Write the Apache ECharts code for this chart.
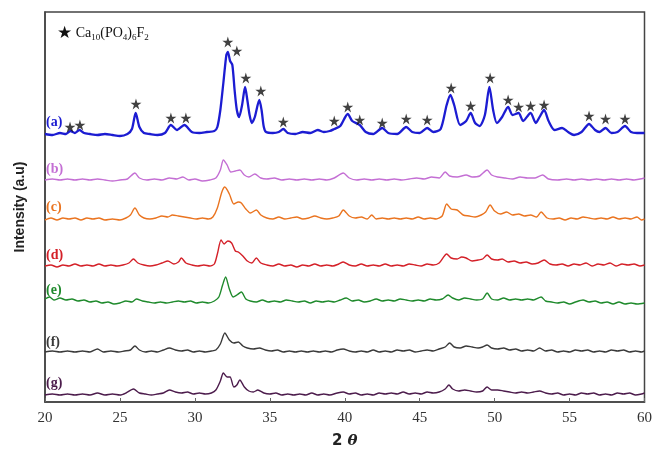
<!DOCTYPE html>
<html><head><meta charset="utf-8">
<script src="https://cdn.jsdelivr.net/npm/echarts@6/dist/echarts.min.js"></script>
<style>html,body{margin:0;padding:0;background:#fff}#c{width:655px;height:459px}</style>
</head><body><div id="c"></div>
<script>
// x-axis ticks (2θ)
const xTicks = [20, 25, 30, 35, 40, 45, 50, 55, 60];
const seriesNames = ['(a)', '(b)', '(c)', '(d)', '(e)', '(f)', '(g)'];
// vertical stacking offsets (a.u.) of each pattern
const offsets = [267, 222, 182, 136, 99, 50, 7];
// label heights (a.u.)
const labelY = [280, 233, 195, 147, 112, 60, 19];
const colors = ['#1c1cd2', '#c46fd4', '#ea7420', '#d42028', '#1f8a2c', '#3a3a3a', '#4c1c4c'];

// patterns: [2θ, intensity above own baseline]
const patA = [[20,1],[20.5,0],[21,2],[21.4,1],[21.7,4],[22,2],[22.3,5],[22.6,2],[23,1],[23.5,0],[24,1],[24.5,0],[25,-1],[25.5,1],[25.8,6],[26.05,22],[26.3,8],[26.6,2],[27,1],[27.5,0],[28,2],[28.4,10],[28.8,5],[29.3,10],[29.8,3],[30.3,2],[30.8,3],[31.3,4],[31.5,8],[31.7,25],[31.9,52],[32.1,80],[32.2,83],[32.35,74],[32.5,70],[32.65,45],[32.8,25],[32.95,18],[33.15,30],[33.35,48],[33.5,35],[33.65,20],[33.8,12],[34.0,18],[34.3,35],[34.45,25],[34.6,8],[34.75,3],[35.2,2],[35.6,3],[35.9,6],[36.2,2],[36.7,1],[37.2,3],[37.7,2],[38.2,5],[38.6,3],[39,4],[39.3,6],[39.7,9],[40.2,21],[40.5,14],[41,10],[41.4,3],[41.9,1],[42.5,7],[42.9,2],[43.5,1],[44.1,8],[44.5,3],[45,2],[45.5,7],[45.9,3],[46.4,6],[46.8,30],[47.05,40],[47.3,30],[47.7,10],[48.1,14],[48.4,22],[48.7,12],[49.0,9],[49.35,20],[49.65,48],[49.9,25],[50.15,12],[50.5,18],[50.9,28],[51.2,20],[51.6,22],[51.9,14],[52.4,22],[52.75,12],[53.0,18],[53.3,25],[53.6,14],[54.0,5],[54.5,7],[54.9,3],[55.3,0],[55.8,3],[56.3,11],[56.7,5],[57.0,3],[57.4,7],[57.8,2],[58.2,3],[58.7,9],[59.1,3],[59.5,2],[60,2]];
const patB = [[20,0],[20.5,1],[21,0],[21.5,1],[22,0],[22.5,1],[23,0],[23.5,1],[24,0],[24.5,-1],[25,0],[25.5,1],[26,7],[26.3,2],[26.8,0],[27.3,1],[27.8,0],[28.3,2],[28.8,1],[29.2,3],[29.6,0],[30,1],[30.5,-1],[31,0],[31.4,2],[31.7,10],[31.9,20],[32.15,15],[32.4,8],[32.7,9],[33.0,10],[33.3,5],[33.6,3],[34.0,6],[34.4,2],[34.8,1],[35.3,2],[35.8,0],[36.3,1],[36.8,0],[37.3,1],[37.8,0],[38.3,1],[38.8,0],[39.3,2],[39.9,7],[40.3,2],[40.8,0],[41.3,1],[41.8,0],[42.3,1],[42.8,0],[43.3,1],[43.8,0],[44.3,1],[44.8,2],[45.3,1],[45.8,3],[46.3,2],[46.7,8],[47.0,4],[47.5,3],[48.1,5],[48.5,3],[49.0,4],[49.5,10],[49.8,5],[50.2,3],[50.7,2],[51.2,1],[51.7,3],[52.2,2],[52.7,2],[53.2,5],[53.6,1],[54.2,0],[54.8,1],[55.3,0],[55.8,1],[56.3,0],[56.8,1],[57.3,0],[57.8,1],[58.3,0],[58.8,1],[59.3,0],[59.7,1],[60,2]];
const patC = [[20,0],[20.4,2],[20.8,0],[21.2,2],[21.6,1],[22,2],[22.4,0],[22.8,2],[23.2,1],[23.6,2],[24,0],[24.5,1],[25,0],[25.4,2],[25.7,5],[26.0,12],[26.3,5],[26.6,2],[27,1],[27.4,2],[27.8,4],[28.2,3],[28.5,5],[28.9,4],[29.3,3],[29.7,2],[30.1,1],[30.5,2],[30.9,1],[31.2,3],[31.5,12],[31.8,28],[32.0,33],[32.3,26],[32.6,16],[32.9,18],[33.1,17],[33.4,11],[33.7,7],[34.1,10],[34.4,5],[34.8,2],[35.2,1],[35.6,3],[36.0,1],[36.4,2],[36.8,3],[37.2,1],[37.6,2],[38.0,4],[38.4,2],[38.8,1],[39.2,2],[39.6,4],[39.9,10],[40.3,4],[40.7,2],[41.1,3],[41.5,1],[41.8,5],[42.1,1],[42.5,2],[42.9,1],[43.3,2],[43.7,1],[44.1,2],[44.5,1],[44.9,3],[45.3,1],[45.7,2],[46.1,1],[46.5,4],[46.8,16],[47.1,11],[47.5,10],[47.9,5],[48.3,4],[48.7,3],[49.1,5],[49.4,8],[49.7,15],[50.0,9],[50.4,6],[50.8,8],[51.2,5],[51.6,6],[52.0,4],[52.4,5],[52.8,3],[53.1,8],[53.5,2],[53.9,1],[54.3,2],[54.7,0],[55.1,2],[55.5,1],[55.9,3],[56.3,2],[56.7,1],[57.1,2],[57.5,1],[57.9,3],[58.3,1],[58.7,2],[59.1,1],[59.5,3],[59.8,0],[60,1]];
const patD = [[20,0],[20.4,1],[20.8,-1],[21.2,1],[21.6,0],[22,2],[22.4,0],[22.8,1],[23.2,0],[23.6,2],[24,0],[24.4,1],[24.8,0],[25.2,1],[25.6,3],[25.9,7],[26.2,3],[26.6,1],[27,0],[27.4,1],[27.8,3],[28.2,5],[28.6,2],[28.9,4],[29.1,8],[29.4,3],[29.8,1],[30.2,0],[30.6,1],[31.0,0],[31.3,2],[31.5,12],[31.75,26],[31.95,22],[32.2,25],[32.45,23],[32.7,15],[32.9,14],[33.2,10],[33.5,5],[33.8,3],[34.1,8],[34.4,3],[34.8,1],[35.2,0],[35.6,2],[36,0],[36.4,1],[36.8,-1],[37.2,1],[37.6,0],[38,2],[38.4,0],[38.8,1],[39.2,0],[39.6,2],[39.9,4],[40.3,1],[40.7,0],[41.1,2],[41.5,0],[41.9,1],[42.3,0],[42.7,2],[43.1,0],[43.5,1],[43.9,0],[44.3,2],[44.7,1],[45.1,0],[45.5,2],[45.9,1],[46.3,3],[46.8,12],[47.1,8],[47.5,7],[47.8,9],[48.1,8],[48.5,5],[48.9,6],[49.2,7],[49.5,11],[49.8,7],[50.2,6],[50.5,7],[50.9,4],[51.3,5],[51.7,3],[52.1,4],[52.5,2],[52.9,3],[53.3,6],[53.7,2],[54.1,1],[54.5,2],[54.9,0],[55.3,2],[55.7,1],[56.1,3],[56.5,0],[56.9,2],[57.3,1],[57.7,3],[58.1,0],[58.5,2],[58.9,1],[59.3,2],[59.7,0],[60,1]];
const patE = [[20,4],[20.3,6],[20.6,3],[21,5],[21.4,3],[21.8,4],[22.2,2],[22.6,3],[23,1],[23.4,2],[23.8,0],[24.2,1],[24.6,-1],[25,0],[25.4,2],[25.8,1],[26.1,4],[26.5,2],[26.9,1],[27.3,0],[27.7,1],[28.1,0],[28.5,1],[28.9,2],[29.3,1],[29.7,2],[30.1,0],[30.5,1],[30.9,0],[31.3,2],[31.6,6],[31.85,18],[32.05,26],[32.3,14],[32.55,6],[32.8,8],[33.1,11],[33.4,4],[33.7,2],[34.1,1],[34.5,3],[34.9,1],[35.3,2],[35.7,1],[36.1,3],[36.5,2],[36.9,1],[37.3,2],[37.7,0],[38.1,2],[38.5,1],[38.9,2],[39.3,1],[39.7,3],[40.1,5],[40.5,2],[40.9,3],[41.3,1],[41.7,2],[42.1,4],[42.5,2],[42.9,3],[43.3,2],[43.7,4],[44.1,3],[44.5,2],[44.9,3],[45.3,2],[45.7,4],[46.1,3],[46.5,4],[46.9,8],[47.2,5],[47.6,3],[48.0,5],[48.4,4],[48.8,3],[49.2,4],[49.5,10],[49.8,4],[50.2,3],[50.6,5],[51.0,3],[51.4,4],[51.8,3],[52.2,4],[52.6,3],[53.1,6],[53.4,2],[53.8,1],[54.2,0],[54.6,1],[55.0,-1],[55.4,1],[55.9,3],[56.3,1],[56.7,2],[57.1,0],[57.5,1],[57.9,-1],[58.3,1],[58.7,-1],[59.1,0],[59.5,-1],[60,0]];
const patF = [[20,0],[20.5,1],[21,0],[21.5,1],[22,0],[22.5,1],[23,0],[23.5,3],[23.9,0],[24.4,1],[24.9,0],[25.3,1],[25.7,2],[26.0,6],[26.3,2],[26.7,0],[27.1,1],[27.5,0],[27.9,2],[28.3,4],[28.7,2],[29.1,1],[29.5,2],[29.9,0],[30.3,1],[30.7,0],[31.1,1],[31.4,2],[31.7,8],[32.0,19],[32.3,12],[32.6,9],[32.9,10],[33.2,6],[33.5,4],[33.9,3],[34.3,4],[34.7,2],[35.1,1],[35.5,2],[35.9,0],[36.3,1],[36.7,0],[37.1,1],[37.5,0],[37.9,1],[38.3,0],[38.7,1],[39.1,0],[39.5,2],[39.9,3],[40.3,1],[40.7,0],[41.1,1],[41.5,0],[41.9,2],[42.3,0],[42.7,1],[43.1,0],[43.5,2],[43.9,1],[44.3,2],[44.7,0],[45.1,1],[45.5,2],[45.9,1],[46.3,3],[46.7,5],[47.0,9],[47.3,5],[47.7,4],[48.1,6],[48.5,5],[48.9,4],[49.2,5],[49.5,7],[49.8,4],[50.2,3],[50.6,4],[51.0,2],[51.4,3],[51.8,1],[52.2,2],[52.6,1],[53.0,4],[53.4,1],[53.8,2],[54.2,0],[54.6,1],[55.0,0],[55.4,2],[55.8,1],[56.2,2],[56.6,0],[57.0,1],[57.4,0],[57.8,2],[58.2,1],[58.6,2],[59.0,0],[59.4,1],[59.8,0],[60,1]];
const patG = [[20,0],[20.5,1],[21,0],[21.5,1],[22,0],[22.5,1],[23,0],[23.5,2],[24,0],[24.5,1],[25,0],[25.4,2],[25.9,6],[26.3,2],[26.7,1],[27.1,0],[27.5,1],[27.9,2],[28.3,5],[28.7,3],[29.1,2],[29.5,3],[29.9,1],[30.3,2],[30.7,1],[31.1,2],[31.4,5],[31.7,14],[31.9,22],[32.15,18],[32.35,18],[32.6,8],[32.8,10],[33.0,15],[33.3,8],[33.6,4],[33.9,3],[34.2,5],[34.6,2],[35.0,1],[35.4,2],[35.8,0],[36.2,1],[36.6,0],[37.0,1],[37.4,0],[37.8,2],[38.2,0],[38.6,1],[39.0,0],[39.5,2],[39.9,3],[40.3,1],[40.7,2],[41.1,0],[41.5,1],[41.9,0],[42.3,2],[42.7,1],[43.1,2],[43.5,1],[43.9,3],[44.3,1],[44.7,2],[45.1,1],[45.5,3],[45.9,2],[46.3,3],[46.7,6],[46.95,10],[47.2,6],[47.6,4],[48.0,5],[48.4,4],[48.8,3],[49.2,4],[49.5,8],[49.8,5],[50.2,5],[50.6,4],[51.0,3],[51.4,2],[51.8,3],[52.2,2],[52.6,3],[53.0,4],[53.4,2],[53.8,1],[54.2,2],[54.6,0],[55.0,1],[55.4,0],[55.8,2],[56.2,1],[56.6,2],[57.0,0],[57.4,1],[57.8,0],[58.2,2],[58.6,1],[59.0,2],[59.4,0],[59.8,1],[60,2]];
const patterns = [patA, patB, patC, patD, patE, patF, patG];

// Ca10(PO4)6F2 reflection markers on pattern (a): [2θ, height above (a) baseline]
const starPeaks = [[21.67,8],[22.33,10],[26.07,31],[28.4,17],[29.4,17],[32.2,93],[32.8,84],[33.4,57],[34.4,44],[35.9,13],[39.3,14],[40.2,28],[41.0,15],[42.5,12],[44.1,16],[45.5,15],[47.1,47],[48.4,29],[49.7,57],[50.9,35],[51.6,28],[52.4,29],[53.3,30],[56.3,19],[57.4,16],[58.7,16]];

const STAR = 'path://M50 0 L61 35 L98 35 L68 57 L79 92 L50 70 L21 92 L32 57 L2 35 L39 35 Z';

const series = patterns.map((p, i) => ({
  type: 'line',
  name: seriesNames[i],
  data: p.map(d => [d[0], d[1] + offsets[i]]),
  showSymbol: false,
  smooth: 0.25,
  lineStyle: { color: colors[i], width: i === 0 ? 2.3 : 1.4 },
  z: 3,
  markPoint: {
    symbol: 'circle', symbolSize: 0, silent: true,
    data: [{ coord: [20, labelY[i]] }],
    label: {
      show: true, position: 'right', distance: 1,
      formatter: seriesNames[i],
      fontFamily: 'Liberation Serif', fontWeight: 'bold', fontSize: 14,
      color: colors[i]
    }
  }
}));
series.push({
  type: 'scatter',
  data: starPeaks.map(s => [s[0], s[1] + offsets[0]]),
  symbol: STAR, symbolSize: 11,
  itemStyle: { color: '#111' },
  z: 5, silent: true
});

const chart = echarts.init(document.getElementById('c'));
chart.setOption({
  animation: false,
  backgroundColor: '#fff',
  title: {
    left: 52, top: 20,
    text: '{s|★} Ca{sub|10}(PO{sub|4}){sub|6}F{sub|2}',
    textStyle: {
      fontFamily: 'Liberation Serif', fontSize: 14, fontWeight: 'normal', color: '#111',
      rich: {
        s: { fontSize: 17, color: '#111', fontFamily: 'DejaVu Sans' },
        sub: { fontSize: 9, verticalAlign: 'bottom', padding: [8, 0, 0, 0], fontFamily: 'Liberation Serif', color: '#111' }
      }
    }
  },
  grid: { left: 45, right: 10, top: 12, bottom: 57, show: true, borderColor: '#444', borderWidth: 1.5, containLabel: false },
  xAxis: {
    type: 'value', min: xTicks[0], max: xTicks[xTicks.length - 1], interval: 5,
    name: '{n|2}{t| θ}', nameLocation: 'middle', nameGap: 32,
    nameTextStyle: { rich: {
      n: { fontFamily: 'DejaVu Sans', fontWeight: 'bold', fontSize: 15, color: '#222' },
      t: { fontFamily: 'DejaVu Serif', fontWeight: 'bold', fontStyle: 'italic', fontSize: 15, color: '#222' }
    } },
    axisLine: { lineStyle: { color: '#444', width: 1.5 } },
    axisTick: { inside: true, length: 4, lineStyle: { color: '#666' } },
    axisLabel: { fontFamily: 'Liberation Serif', fontSize: 15, color: '#333', margin: 9 },
    splitLine: { show: false }
  },
  yAxis: {
    type: 'value', min: 0, max: 390,
    name: 'Intensity (a.u)', nameLocation: 'middle', nameGap: 18,
    nameTextStyle: { fontFamily: 'Liberation Sans', fontWeight: 'bold', fontSize: 14, color: '#222' },
    axisLine: { show: true, lineStyle: { color: '#444', width: 1.5 } },
    axisTick: { show: false }, axisLabel: { show: false }, splitLine: { show: false }
  },
  series: series
});
</script></body></html>
